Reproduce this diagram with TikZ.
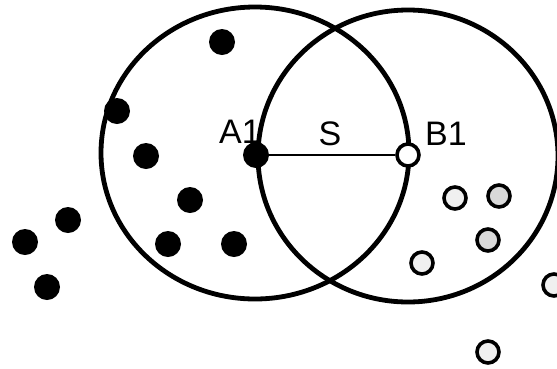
\documentclass[tikz,border=0pt]{standalone}
\usepackage{fontspec}
\setmainfont{Liberation Sans}
\begin{document}
\begin{tikzpicture}[x=1pt,y=-1pt,
  bigring/.style={line width=4.8pt},
  fulldot/.style={circle,fill=black,inner sep=0pt,minimum size=26pt},
  opendot/.style={circle,draw=black,line width=3.6pt,inner sep=0pt,minimum size=22pt},
  emptydot/.style={opendot,fill=white},
  paledot/.style={opendot,fill=gray!12},
  greydot/.style={opendot,fill=gray!30},
  lbl/.style={font=\fontsize{34}{34}\selectfont,inner sep=0pt},
  link/.style={line width=2pt}]
\useasboundingbox (0,0) rectangle (557,368);
% the two large circles
\draw[bigring] (255,153) ellipse [x radius=154pt, y radius=146pt];
\draw[bigring] (408,156) ellipse [x radius=150pt, y radius=146pt];
% A1 and B1 points with the segment S
\node[fulldot] (a1) at (256,155) {};
\node[emptydot] (b1) at (408,155) {};
\draw[link] (a1) -- (b1);
% labels
\node[lbl] (la1) at (240,132) {A1};
\node[lbl] (ls) at (330,134) {S};
\node[lbl] (lb1) at (446,134) {B1};
% black dots
\node[fulldot] (d1) at (222,42) {};
\node[fulldot] (d2) at (117,111) {};
\node[fulldot] (d3) at (146,156) {};
\node[fulldot] (d4) at (190,200) {};
\node[fulldot] (d5) at (168,244) {};
\node[fulldot] (d6) at (234,244) {};
\node[fulldot] (d7) at (68,220) {};
\node[fulldot] (d8) at (25,242) {};
\node[fulldot] (d9) at (47,287) {};
% open dots
\node[paledot] (o1) at (455,198) {};
\node[greydot] (o2) at (499,196) {};
\node[greydot] (o3) at (488,240) {};
\node[paledot] (o4) at (422,263) {};
\node[paledot] (o5) at (554,285) {};
\node[paledot] (o6) at (488,352) {};
\end{tikzpicture}
\end{document}
